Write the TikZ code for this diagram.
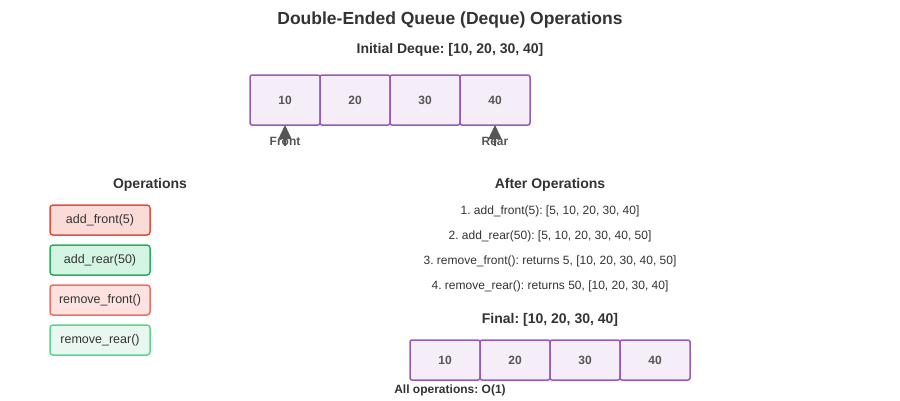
\documentclass[tikz,border=0pt]{standalone}
\usepackage{fontspec}
\setmainfont{Liberation Sans}
\frenchspacing
\usetikzlibrary{arrows.meta,positioning}
\definecolor{txt}{HTML}{333333}
\definecolor{cellfill}{HTML}{F5EEF8}
\definecolor{celldraw}{HTML}{9B59B6}
\definecolor{redfill}{HTML}{FADBD8}
\definecolor{reddraw}{HTML}{E74C3C}
\definecolor{greenfill}{HTML}{D5F5E3}
\definecolor{greendraw}{HTML}{27AE60}
\definecolor{lredfill}{HTML}{FDE2E0}
\definecolor{lreddraw}{HTML}{EC7063}
\definecolor{lgreenfill}{HTML}{E8F8F0}
\definecolor{lgreendraw}{HTML}{58D68D}
\definecolor{ptrgray}{HTML}{555555}

\begin{document}
\begin{tikzpicture}[x=1pt,y=-1pt]
  \useasboundingbox (0,0) rectangle (900,400);
  \tikzset{CellStyle/.style = {draw=celldraw, fill=cellfill, line width=1.5pt, rounded corners=2pt,
      minimum width=70pt, minimum height=50pt, inner sep=0pt, outer sep=0pt, text=ptrgray,
      font=\fontsize{12}{14}\selectfont\bfseries}}
  \tikzset{SmallCellStyle/.style = {CellStyle, minimum height=40pt}}
  \tikzset{OpStyle/.style = {line width=1.5pt, rounded corners=3pt, minimum width=100pt,
      minimum height=30pt, inner sep=0pt, outer sep=0pt, text=txt, font=\fontsize{12.5}{15}\selectfont}}
  \tikzset{HeadStyle/.style = {text=txt, font=\fontsize{14}{16}\selectfont\bfseries}}
  \tikzset{LineStyle/.style = {text=txt, font=\fontsize{12}{14}\selectfont}}
  \tikzset{PtrStyle/.style = {ptrgray, line width=1.5pt, -{Triangle[length=14pt,width=13pt]}}}

  \node(title)[text=txt, font=\fontsize{17.5}{20}\selectfont\bfseries] at (450,20) {Double-Ended Queue (Deque) Operations};
  \node(init)[HeadStyle] at (450,50) {Initial Deque: [10, 20, 30, 40]};

  % initial deque
  \node(a1)[CellStyle] at (285,100) {10};
  \node(a2)[CellStyle, right=0pt of a1] {20};
  \node(a3)[CellStyle, right=0pt of a2] {30};
  \node(a4)[CellStyle, right=0pt of a3] {40};

  \node(front)[text=ptrgray, font=\fontsize{12}{14}\selectfont\bfseries] at (285,141) {Front};
  \node(rear)[text=ptrgray, font=\fontsize{12}{14}\selectfont\bfseries] at (495,141) {Rear};
  \coordinate(fp) at (285,146);
  \coordinate(rp) at (495,146);
  \draw[PtrStyle](fp) -- (a1.south);
  \draw[PtrStyle](rp) -- (a4.south);

  % operations
  \node(ops)[HeadStyle] at (150,185) {Operations};
  \node(o1)[OpStyle, draw=reddraw, fill=redfill] at (100,220) {add\_front(5)};
  \node(o2)[OpStyle, draw=greendraw, fill=greenfill, below=10pt of o1] {add\_rear(50)};
  \node(o3)[OpStyle, draw=lreddraw, fill=lredfill, below=10pt of o2] {remove\_front()};
  \node(o4)[OpStyle, draw=lgreendraw, fill=lgreenfill, below=10pt of o3] {remove\_rear()};

  % results
  \node(after)[HeadStyle] at (550,185) {After Operations};
  \node(r1)[LineStyle] at (550,211) {1. add\_front(5): [5, 10, 20, 30, 40]};
  \node(r2)[LineStyle] at (550,236) {2. add\_rear(50): [5, 10, 20, 30, 40, 50]};
  \node(r3)[LineStyle] at (550,261) {3. remove\_front(): returns 5, [10, 20, 30, 40, 50]};
  \node(r4)[LineStyle] at (550,286) {4. remove\_rear(): returns 50, [10, 20, 30, 40]};

  \node(final)[HeadStyle] at (550,320) {Final: [10, 20, 30, 40]};
  \node(b1)[SmallCellStyle] at (445,360) {10};
  \node(b2)[SmallCellStyle, right=0pt of b1] {20};
  \node(b3)[SmallCellStyle, right=0pt of b2] {30};
  \node(b4)[SmallCellStyle, right=0pt of b3] {40};

  \node(cplx)[text=txt, font=\fontsize{12}{14}\selectfont\bfseries] at (450,390) {All operations: O(1)};
\end{tikzpicture}
\end{document}
